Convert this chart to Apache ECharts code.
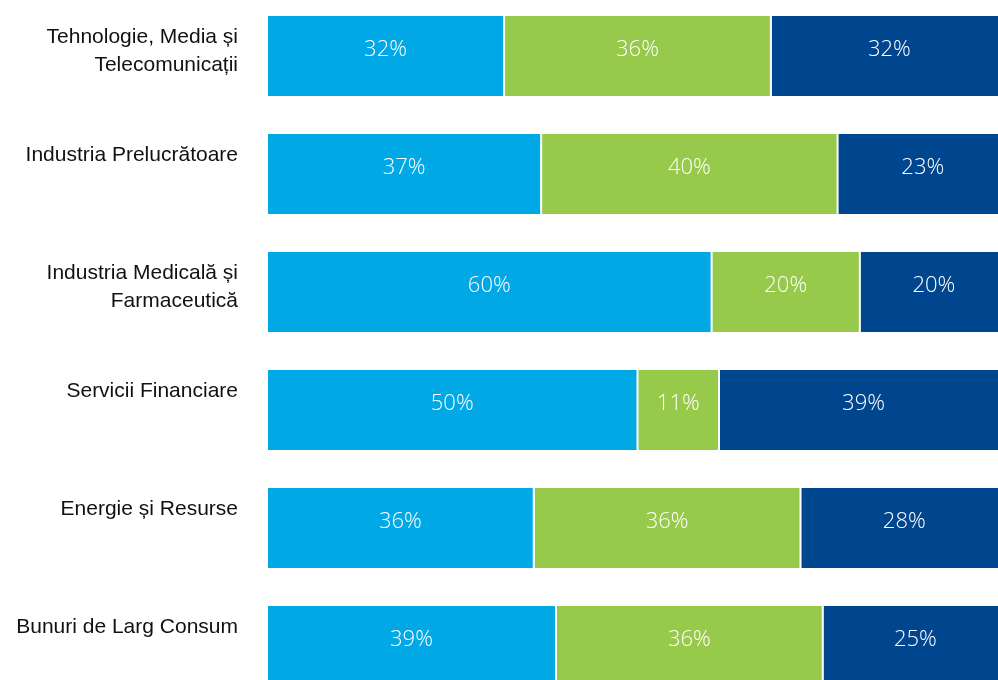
<!DOCTYPE html>
<html>
<head>
<meta charset="utf-8">
<script src="https://cdn.jsdelivr.net/npm/echarts@6/dist/echarts.min.js"></script>
<style>
  html, body { margin: 0; padding: 0; background: #ffffff; overflow: hidden; width: 998px; height: 680px; }
  /* The plot runs slightly past the right and bottom edges of the page */
  #chart { position: absolute; left: 0; top: -3px; width: 1008px; height: 708px; }
</style>
</head>
<body>
<div id="chart"></div>
<script>
// Sector names (top to bottom)
const categories = [
  'Tehnologie, Media și\nTelecomunicații',
  'Industria Prelucrătoare',
  'Industria Medicală și\nFarmaceutică',
  'Servicii Financiare',
  'Energie și Resurse',
  'Bunuri de Larg Consum'
];

// Shares per sector, in percent
const seriesA = [32, 37, 60, 50, 36, 39];
const seriesB = [36, 40, 20, 11, 36, 36];
const seriesC = [32, 23, 20, 39, 28, 25];

const colors = ['#00A9E6', '#97C94A', '#00468F'];

const chart = echarts.init(document.getElementById('chart'), null, { renderer: 'canvas' });

function makeSeries(name, data, color) {
  return {
    name: name,
    type: 'bar',
    stack: 'total',
    data: data,
    barWidth: 82,
    itemStyle: { color: color, borderColor: '#ffffff', borderWidth: 1 },
    label: {
      show: true,
      position: 'inside',
      formatter: '{c}%',
      color: '#ffffff',
      fontFamily: '"Open Sans", "Noto Sans", sans-serif',
      fontWeight: 300,
      fontSize: 22,
      offset: [0, -6]
    },
    emphasis: { disabled: true }
  };
}

const option = {
  animation: false,
  backgroundColor: '#ffffff',
  grid: { left: 267, right: 0, top: 0, bottom: 0, containLabel: false },
  xAxis: {
    type: 'value',
    min: 0,
    max: 100,
    show: false
  },
  yAxis: {
    type: 'category',
    data: categories,
    inverse: true,
    axisLine: { show: false },
    axisTick: { show: false },
    splitLine: { show: false },
    axisLabel: {
      interval: 0,
      margin: 29,
      align: 'right',
      verticalAlign: 'middle',
      formatter: function (v) {
        const lines = v.split('\n');
        const body = lines.map(function (l) { return '{t|' + l + '}'; }).join('\n');
        return body + '\n' + (lines.length > 1 ? '{s2| }' : '{s1| }');
      },
      rich: {
        t: {
          fontFamily: '"Liberation Sans", Arial, sans-serif',
          fontSize: 21,
          color: '#111111',
          lineHeight: 28,
          align: 'right'
        },
        s1: { fontSize: 1, lineHeight: 38 },
        s2: { fontSize: 1, lineHeight: 10 }
      }
    }
  },
  series: [
    makeSeries('Segment A', seriesA, colors[0]),
    makeSeries('Segment B', seriesB, colors[1]),
    makeSeries('Segment C', seriesC, colors[2])
  ]
};

chart.setOption(option);
</script>
</body>
</html>
